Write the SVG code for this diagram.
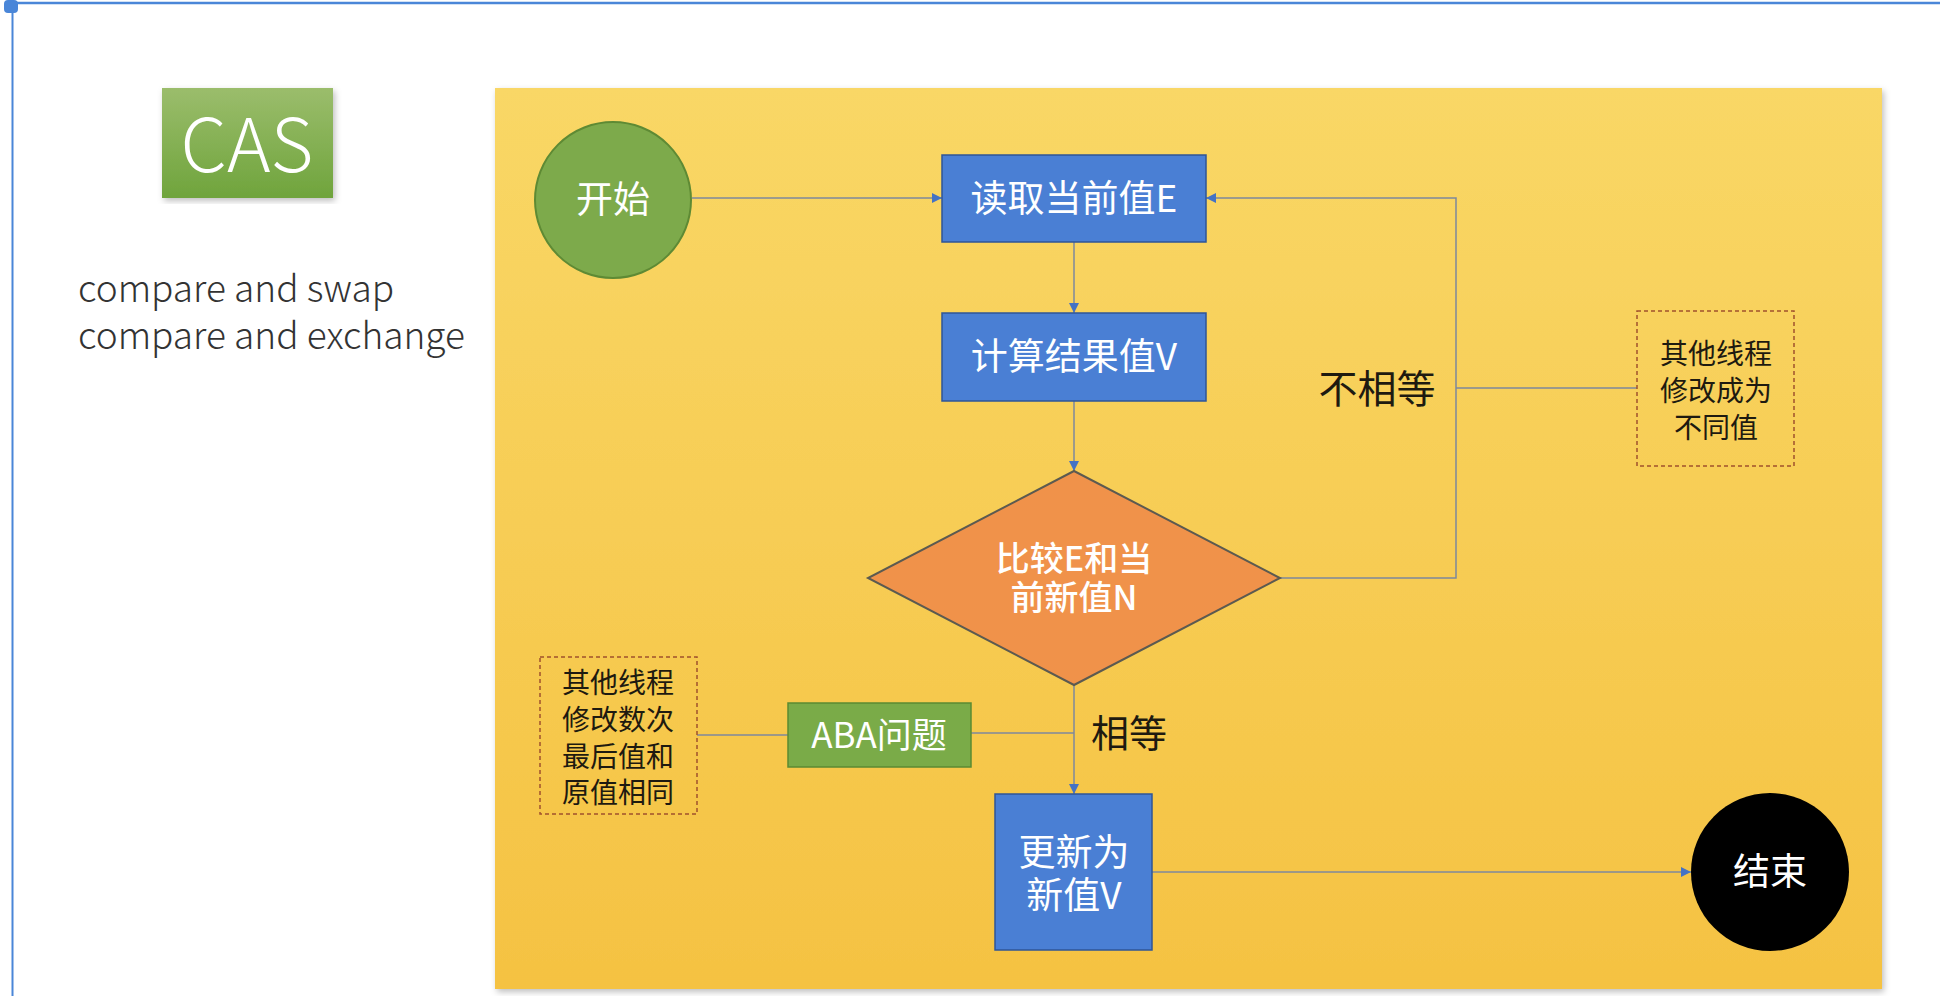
<svg xmlns="http://www.w3.org/2000/svg" width="1940" height="996" viewBox="0 0 1940 996">
  <defs>
    <linearGradient id="panelGrad" x1="0" y1="0" x2="0" y2="1">
      <stop offset="0" stop-color="#F9D766"/>
      <stop offset="1" stop-color="#F5C242"/>
    </linearGradient>
    <linearGradient id="casGrad" x1="0" y1="0" x2="0" y2="1">
      <stop offset="0" stop-color="#9BBD6C"/>
      <stop offset="1" stop-color="#6FA43C"/>
    </linearGradient>
    <filter id="shadow" x="-5%" y="-5%" width="110%" height="110%">
      <feDropShadow dx="2" dy="3" stdDeviation="3" flood-color="#000" flood-opacity="0.25"/>
    </filter>
    <marker id="arrow" viewBox="0 0 10 10" refX="10" refY="5" markerWidth="10" markerHeight="10" markerUnits="userSpaceOnUse" orient="auto">
      <path d="M0,0 L10,5 L0,10 z" fill="#4472C4"/>
    </marker>
    <style>
      .cjk { font-family: "Noto Sans CJK SC", "Noto Sans", sans-serif; }
      .white { fill: #FFFFFF; }
      .dark { fill: #1E1A10; }
      .box { fill: #4A7FD4; stroke: #2F5597; stroke-width: 1.5; }
      .conn { fill: none; stroke: #7E889C; stroke-width: 1.5; }
      .dashbox { fill: none; stroke: #A0522D; stroke-width: 1.5; stroke-dasharray: 4 3; }
    </style>
  </defs>

  <rect x="0" y="0" width="1940" height="996" fill="#FFFFFF"/>
  <!-- window frame -->
  <line x1="8" y1="3" x2="1940" y2="3" stroke="#4A86D8" stroke-width="2.5"/>
  <line x1="12.5" y1="8" x2="12.5" y2="996" stroke="#4A86D8" stroke-width="2"/>
  <rect x="4" y="0" width="14" height="13" rx="4" fill="#4A86D8"/>

  <!-- CAS title -->
  <g id="cas">
    <rect x="162" y="88" width="171" height="110" fill="url(#casGrad)" filter="url(#shadow)"/>
    <text x="247" y="172" text-anchor="middle" class="cjk white" font-size="74" font-weight="300">CAS</text>
  </g>
  <g id="caption" class="cjk" fill="#333333" font-size="37" font-weight="300">
    <text x="78" y="302">compare and swap</text>
    <text x="78" y="349">compare and exchange</text>
  </g>

  <!-- panel -->
  <rect id="panel" x="495" y="88" width="1387" height="901" fill="url(#panelGrad)" filter="url(#shadow)"/>

  <g id="connectors">
    <line class="conn" x1="692" y1="198" x2="942" y2="198" marker-end="url(#arrow)"/>
    <line class="conn" x1="1074" y1="242" x2="1074" y2="313" marker-end="url(#arrow)"/>
    <line class="conn" x1="1074" y1="401" x2="1074" y2="471" marker-end="url(#arrow)"/>
    <polyline class="conn" points="1279,578 1456,578 1456,198 1206,198" marker-end="url(#arrow)"/>
    <line class="conn" x1="1456" y1="388" x2="1637" y2="388"/>
    <line class="conn" x1="1074" y1="685" x2="1074" y2="794" marker-end="url(#arrow)"/>
    <line class="conn" x1="971" y1="733" x2="1074" y2="733"/>
    <line class="conn" x1="697" y1="735" x2="788" y2="735"/>
    <line class="conn" x1="1152" y1="872" x2="1691" y2="872" marker-end="url(#arrow)"/>
  </g>

  <g id="start">
    <circle cx="613" cy="200" r="78" fill="#7DAA4B" stroke="#5E8A34" stroke-width="2"/>
    <text x="613" y="213" text-anchor="middle" class="cjk white" font-size="37">开始</text>
  </g>

  <g id="read">
    <rect class="box" x="942" y="155" width="264" height="87"/>
    <text x="1074" y="212" text-anchor="middle" class="cjk white" font-size="37">读取当前值E</text>
  </g>

  <g id="compute">
    <rect class="box" x="942" y="313" width="264" height="88"/>
    <text x="1074" y="370" text-anchor="middle" class="cjk white" font-size="37">计算结果值V</text>
  </g>

  <g id="compare">
    <polygon points="1074,471 1280,578 1074,685 868,578" fill="#F0924A" stroke="#5C5A50" stroke-width="2"/>
    <text x="1074" y="571" text-anchor="middle" class="cjk white" font-size="34" font-weight="500">比较E和当</text>
    <text x="1074" y="610" text-anchor="middle" class="cjk white" font-size="34" font-weight="500">前新值N</text>
  </g>

  <g id="notEqualLabel">
    <text x="1377" y="403" text-anchor="middle" class="cjk dark" font-size="39">不相等</text>
  </g>

  <g id="noteDiff">
    <rect class="dashbox" x="1637" y="311" width="157" height="155"/>
    <text x="1716" y="364" text-anchor="middle" class="cjk dark" font-size="28">其他线程</text>
    <text x="1716" y="401" text-anchor="middle" class="cjk dark" font-size="28">修改成为</text>
    <text x="1716" y="438" text-anchor="middle" class="cjk dark" font-size="28">不同值</text>
  </g>

  <g id="equalLabel">
    <text x="1129" y="747" text-anchor="middle" class="cjk dark" font-size="38">相等</text>
  </g>

  <g id="aba">
    <rect x="788" y="703" width="183" height="64" fill="#7AAB48" stroke="#5B8A32" stroke-width="1.5"/>
    <text x="879" y="748" text-anchor="middle" class="cjk white" font-size="35">ABA问题</text>
  </g>

  <g id="noteABA">
    <rect class="dashbox" x="540" y="657" width="157" height="157"/>
    <text x="618" y="693" text-anchor="middle" class="cjk dark" font-size="28">其他线程</text>
    <text x="618" y="730" text-anchor="middle" class="cjk dark" font-size="28">修改数次</text>
    <text x="618" y="767" text-anchor="middle" class="cjk dark" font-size="28">最后值和</text>
    <text x="618" y="803" text-anchor="middle" class="cjk dark" font-size="28">原值相同</text>
  </g>

  <g id="update">
    <rect class="box" x="995" y="794" width="157" height="156"/>
    <text x="1074" y="866" text-anchor="middle" class="cjk white" font-size="37">更新为</text>
    <text x="1074" y="909" text-anchor="middle" class="cjk white" font-size="37">新值V</text>
  </g>

  <g id="end">
    <circle cx="1770" cy="872" r="79" fill="#000000"/>
    <text x="1770" y="885" text-anchor="middle" class="cjk white" font-size="37">结束</text>
  </g>
</svg>
